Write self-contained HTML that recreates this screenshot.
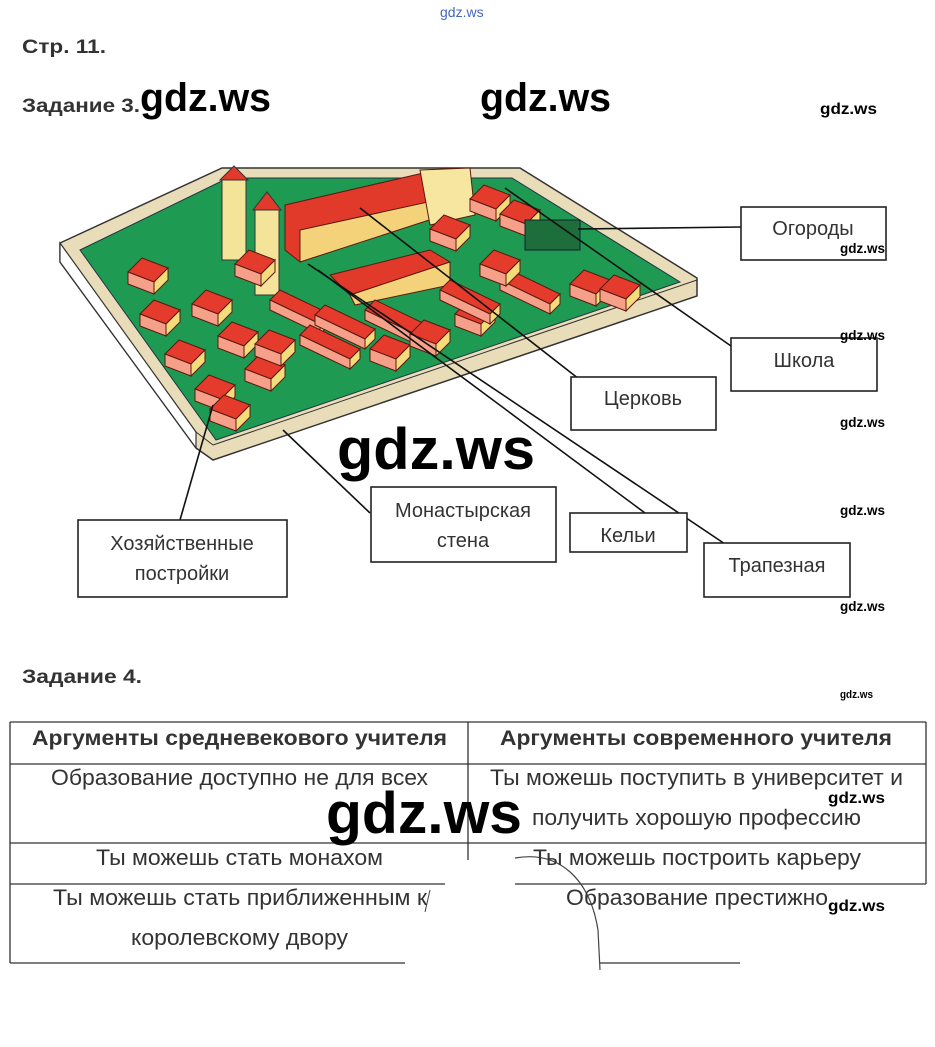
<!DOCTYPE html>
<html><head><meta charset="utf-8"><style>
html,body{margin:0;padding:0;background:#fff;}
svg{display:block;}
text{font-family:"Liberation Sans",sans-serif;fill:#333;}
.b{font-weight:bold;}
.w{font-weight:bold;fill:#000;}
.lbl{font-size:20px;text-anchor:middle;fill:#333;}
</style></head><body>
<svg width="935" height="1047" viewBox="0 0 935 1047" xmlns="http://www.w3.org/2000/svg">
<defs>
<g id="h">
 <polygon points="0,14 14,0 40,10 26,24" fill="#e43b2c" stroke="#5a1a10" stroke-width="1"/>
 <polygon points="0,14 26,24 26,36 0,26" fill="#f6a08a" stroke="#5a1a10" stroke-width="1"/>
 <polygon points="26,24 40,10 40,22 26,36" fill="#f5dc7a" stroke="#5a1a10" stroke-width="1"/>
</g>
<g id="L">
 <polygon points="0,10 10,0 60,24 50,34" fill="#e43b2c" stroke="#5a1a10" stroke-width="1"/>
 <polygon points="0,10 50,34 50,44 0,20" fill="#f6a08a" stroke="#5a1a10" stroke-width="1"/>
 <polygon points="50,34 60,24 60,34 50,44" fill="#f5dc7a" stroke="#5a1a10" stroke-width="1"/>
</g>
</defs>

<text x="440" y="17" font-size="14" style="fill:#4466bb">gdz.ws</text>
<text x="22" y="53" font-size="19" class="b" textLength="84" lengthAdjust="spacingAndGlyphs">Стр. 11.</text>
<text x="22" y="112" font-size="19" class="b" textLength="118" lengthAdjust="spacingAndGlyphs">Задание 3.</text>
<text x="140" y="111" font-size="40" class="w" textLength="131" lengthAdjust="spacingAndGlyphs">gdz.ws</text>
<text x="480" y="111" font-size="40" class="w" textLength="131" lengthAdjust="spacingAndGlyphs">gdz.ws</text>
<text x="820" y="114" font-size="16" class="w" textLength="57" lengthAdjust="spacingAndGlyphs">gdz.ws</text>

<!-- board -->
<polygon points="60,243 222,168 520,168 697,278 697,296 213,460 196,448 60,262" fill="#e9dcb8" stroke="#333" stroke-width="1.5"/>
<polygon points="60,243 196,432 196,448 60,262" fill="#fff" stroke="#333" stroke-width="1.2"/>
<polygon points="80,250 228,178 512,178 680,282 216,440" fill="#1f9a52" stroke="#234" stroke-width="1"/>
<line x1="196" y1="432" x2="213" y2="445" stroke="#333"/>
<line x1="213" y1="445" x2="697" y2="280" stroke="#333"/>

<!-- main church -->
<polygon points="285,205 445,168 468,168 468,205 300,262 285,250" fill="#e23a2a" stroke="#5a1a10"/>
<polygon points="300,230 460,195 460,210 300,262" fill="#f4d27a" stroke="#5a1a10"/>
<polygon points="420,170 470,168 475,215 430,225" fill="#f6e6a0" stroke="#5a1a10"/>
<polygon points="330,275 430,250 450,262 350,295" fill="#e23a2a" stroke="#5a1a10"/>
<polygon points="350,295 450,262 450,285 355,305" fill="#f4d27a" stroke="#5a1a10"/>
<!-- towers -->
<rect x="222" y="180" width="24" height="80" fill="#f3e49a" stroke="#333"/>
<polygon points="220,180 234,166 248,180" fill="#e23a2a" stroke="#333"/>
<rect x="255" y="210" width="24" height="85" fill="#f3e49a" stroke="#333"/>
<polygon points="253,210 267,192 281,210" fill="#e23a2a" stroke="#333"/>
<!-- left cluster -->
<use href="#h" x="128" y="258"/>
<use href="#h" x="140" y="300"/>
<use href="#h" x="165" y="340"/>
<use href="#h" x="195" y="375"/>
<use href="#h" x="192" y="290"/>
<use href="#h" x="218" y="322"/>
<use href="#h" x="245" y="355"/>
<use href="#h" x="210" y="395"/>
<use href="#h" x="255" y="330"/>
<use href="#h" x="235" y="250"/>
<use href="#L" x="270" y="290"/>
<use href="#L" x="300" y="325"/>
<use href="#L" x="315" y="305"/>
<use href="#L" x="365" y="300"/>
<use href="#h" x="370" y="335"/>
<use href="#h" x="410" y="320"/>
<use href="#h" x="455" y="300"/>
<use href="#L" x="440" y="280"/>
<use href="#L" x="500" y="270"/>
<use href="#h" x="470" y="185"/>
<use href="#h" x="500" y="200"/>
<use href="#h" x="430" y="215"/>
<use href="#h" x="480" y="250"/>
<use href="#h" x="570" y="270"/>
<use href="#h" x="600" y="275"/>
<rect x="525" y="220" width="55" height="30" fill="#1d6e3a" stroke="#123"/>

<!-- connectors -->
<g stroke="#111" stroke-width="1.6" fill="none">
<line x1="741" y1="227" x2="578" y2="229"/>
<line x1="731" y1="346" x2="505" y2="188"/>
<line x1="579" y1="379" x2="360" y2="208"/>
<line x1="645" y1="513" x2="318" y2="270"/>
<line x1="725" y1="544" x2="308" y2="264"/>
<line x1="180" y1="520" x2="213" y2="405"/>
<line x1="370" y1="513" x2="283" y2="430"/>
</g>

<!-- boxes -->
<g fill="#fff" stroke="#222" stroke-width="1.6">
<rect x="741" y="207" width="145" height="53"/>
<rect x="731" y="338" width="146" height="53"/>
<rect x="571" y="377" width="145" height="53"/>
<rect x="371" y="487" width="185" height="75"/>
<rect x="570" y="513" width="117" height="39"/>
<rect x="704" y="543" width="146" height="54"/>
<rect x="78" y="520" width="209" height="77"/>
</g>
<text x="813" y="235" class="lbl">Огороды</text>
<text x="804" y="367" class="lbl">Школа</text>
<text x="643" y="405" class="lbl">Церковь</text>
<text x="463" y="517" class="lbl">Монастырская</text>
<text x="463" y="547" class="lbl">стена</text>
<text x="628" y="542" class="lbl">Кельи</text>
<text x="777" y="572" class="lbl">Трапезная</text>
<text x="182" y="550" class="lbl">Хозяйственные</text>
<text x="182" y="580" class="lbl">постройки</text>

<text x="840" y="253" font-size="14" class="w" textLength="45" lengthAdjust="spacingAndGlyphs">gdz.ws</text>
<text x="840" y="340" font-size="14" class="w" textLength="45" lengthAdjust="spacingAndGlyphs">gdz.ws</text>
<text x="840" y="427" font-size="14" class="w" textLength="45" lengthAdjust="spacingAndGlyphs">gdz.ws</text>
<text x="840" y="515" font-size="14" class="w" textLength="45" lengthAdjust="spacingAndGlyphs">gdz.ws</text>
<text x="840" y="611" font-size="14" class="w" textLength="45" lengthAdjust="spacingAndGlyphs">gdz.ws</text>
<text x="337" y="469" font-size="58" class="w" textLength="198" lengthAdjust="spacingAndGlyphs">gdz.ws</text>

<text x="22" y="683" font-size="19" class="b" textLength="120" lengthAdjust="spacingAndGlyphs">Задание 4.</text>
<text x="840" y="698" font-size="11" class="w" textLength="33" lengthAdjust="spacingAndGlyphs">gdz.ws</text>

<!-- table -->
<g stroke="#333" stroke-width="1.3">
<line x1="10" y1="722" x2="926" y2="722"/>
<line x1="10" y1="764" x2="926" y2="764"/>
<line x1="10" y1="843" x2="926" y2="843"/>
<line x1="10" y1="884" x2="445" y2="884"/>
<line x1="515" y1="884" x2="926" y2="884"/>
<line x1="10" y1="963" x2="405" y2="963"/>
<line x1="600" y1="963" x2="740" y2="963"/>
<line x1="10" y1="722" x2="10" y2="963"/>
<line x1="468" y1="722" x2="468" y2="860"/>
<line x1="926" y1="722" x2="926" y2="884"/>
</g>
<path d="M515,858 C560,850 590,880 598,930 L600,970" stroke="#444" stroke-width="1.2" fill="none"/>
<line x1="430" y1="890" x2="425" y2="912" stroke="#444"/>

<text x="32" y="745" font-size="21" class="b" textLength="415" lengthAdjust="spacingAndGlyphs">Аргументы средневекового учителя</text>
<text x="500" y="745" font-size="21" class="b" textLength="392" lengthAdjust="spacingAndGlyphs">Аргументы современного учителя</text>
<text x="51" y="785" font-size="22" textLength="377" lengthAdjust="spacingAndGlyphs">Образование доступно не для всех</text>
<text x="490" y="785" font-size="22" textLength="413" lengthAdjust="spacingAndGlyphs">Ты можешь поступить в университет и</text>
<text x="532" y="825" font-size="22" textLength="329" lengthAdjust="spacingAndGlyphs">получить хорошую профессию</text>
<text x="96" y="865" font-size="22" textLength="287" lengthAdjust="spacingAndGlyphs">Ты можешь стать монахом</text>
<text x="533" y="865" font-size="22" textLength="328" lengthAdjust="spacingAndGlyphs">Ты можешь построить карьеру</text>
<text x="53" y="905" font-size="22" textLength="374" lengthAdjust="spacingAndGlyphs">Ты можешь стать приближенным к</text>
<text x="131" y="945" font-size="22" textLength="217" lengthAdjust="spacingAndGlyphs">королевскому двору</text>
<text x="566" y="905" font-size="22" textLength="262" lengthAdjust="spacingAndGlyphs">Образование престижно</text>
<text x="828" y="803" font-size="16" class="w" textLength="57" lengthAdjust="spacingAndGlyphs">gdz.ws</text>
<text x="828" y="911" font-size="16" class="w" textLength="57" lengthAdjust="spacingAndGlyphs">gdz.ws</text>
<text x="326" y="833" font-size="58" class="w" textLength="196" lengthAdjust="spacingAndGlyphs">gdz.ws</text>
</svg>
</body></html>
